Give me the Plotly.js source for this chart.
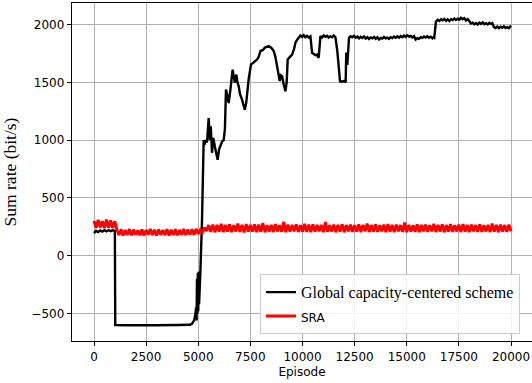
<!DOCTYPE html>
<html><head><meta charset="utf-8">
<script src="https://cdn.plot.ly/plotly-3.0.1.min.js"></script>
<style>html,body{margin:0;padding:0;background:#fff}#c{width:532px;height:383px}</style>
</head><body><div id="c"></div>
<script>
// Global capacity-centered scheme (black) — readings
const blackX = [0,100,200,300,400,500,600,700,800,900,1000,1020,1500,2000,3000,4000,4600,4700,4800,4850,4900,4920,4940,4960,4980,5000,5020,5040,5060,5100,5180,5260,5300,5350,5420,5500,5560,5600,5660,5720,5800,5860,5930,6000,6060,6150,6220,6280,6330,6400,6460,6550,6650,6750,6830,6880,6940,7000,7100,7230,7300,7420,7530,7650,7820,7900,7980,8100,8200,8380,8500,8620,8700,8780,8850,8910,8960,9020,9100,9180,9240,9290,9400,9500,9600,9660,9750,9830,9900,9980,10060,10140,10220,10300,10380,10460,10540,10620,10700,10760,10780,10860,10940,11020,11100,11180,11260,11340,11420,11500,11580,11670,11800,11900,11990,12070,12100,12150,12230,12310,12390,12470,12550,12630,12710,12790,12870,12950,13030,13110,13190,13270,13350,13430,13510,13590,13670,13750,13830,13910,13990,14070,14150,14230,14310,14390,14470,14550,14630,14710,14790,14870,14950,15030,15110,15190,15270,15350,15430,15510,15590,15670,15750,15830,15910,15990,16070,16150,16230,16280,16320,16400,16480,16560,16640,16720,16800,16880,16960,17040,17120,17200,17280,17360,17440,17520,17600,17680,17760,17840,17920,18000,18080,18160,18240,18320,18400,18480,18560,18640,18720,18800,18880,18960,19040,19100,19180,19260,19340,19420,19500,19580,19660,19740,19820,19900,19960,20000];
const blackY = [195,215,205,218,208,220,210,222,212,220,215,-600,-602,-600,-602,-600,-598,-590,-560,-520,-450,-560,-200,-500,-150,-480,-140,-420,-250,-150,300,1000,960,1000,980,1190,1000,1120,890,1020,940,900,830,920,950,990,1000,1100,1437,1380,1320,1450,1610,1497,1567,1500,1465,1400,1350,1263,1320,1530,1654,1670,1697,1720,1770,1780,1800,1813,1800,1770,1720,1640,1560,1510,1560,1552,1480,1422,1500,1697,1720,1740,1790,1842,1870,1885,1905,1892,1908,1890,1902,1888,1897,1755,1748,1735,1740,1711,1720,1900,1888,1906,1893,1902,1887,1899,1890,1905,1890,1770,1509,1505,1512,1500,1757,1650,1885,1898,1890,1902,1886,1895,1880,1893,1884,1897,1878,1890,1874,1888,1880,1893,1876,1889,1870,1884,1878,1892,1880,1887,1875,1890,1882,1895,1885,1898,1886,1900,1890,1904,1892,1906,1895,1902,1888,1899,1870,1882,1876,1890,1884,1896,1887,1900,1885,1894,1880,1889,1885,2025,2040,2030,2045,2036,2048,2032,2044,2030,2046,2038,2052,2040,2050,2042,2058,2045,2055,2035,2046,2030,2008,2015,2002,2012,2000,2016,2005,2018,2003,2012,2000,2014,2005,2012,1978,1970,1982,1968,1980,1972,1984,1970,1978,1968,1982,1975,1988];

// SRA (red) — one reading every 100 episodes, starting at episode 0
const sraStart = 0, sraStep = 100;
const sraY = [
302,240,310,244,298,238,312,242,305,238,298,
224,178,228,175,222,180,230,176,225,182,220,177,227,174,223,181,231,178,224,175,226,179,222,177,229,174,225,180,228,176,223,181,230,178,226,183,228,180,232,187,
223,202,243,214,
265,207,269,203,266,209,276,205,267,208,
271,204,264,210,278,206,266,202,273,208,
265,209,270,205,268,207,283,203,264,209,
267,205,273,210,263,207,294,204,269,208,
266,210,271,205,264,209,276,206,268,203,
270,208,265,211,267,204,290,207,263,210,
269,205,266,209,272,203,265,210,268,206,
264,208,271,204,267,210,277,205,265,209,
270,206,263,211,268,204,273,208,266,205,
269,210,265,206,286,203,267,209,264,207,
271,204,266,210,268,206,263,211,276,205,
267,209,270,203,265,208,272,206,264,210,
268,205,273,209,266,204,269,211,265,207,
270,206,264,210,267,205,278,208,266,203,
269,209,265,206,268,210];

const xTicks = [0,2500,5000,7500,10000,12500,15000,17500,20000];
const yTicks = [-500,0,500,1000,1500,2000];
const names = ['Global capacity-centered scheme', 'SRA'];

const tickFont = {family:'DejaVu Sans', size:12, color:'#000'};
const traces = [
  {x: blackX, y: blackY, type:'scatter', mode:'lines', name: names[0],
   line:{color:'#000', width:2.4}},
  {y: sraY, x0: sraStart, dx: sraStep, type:'scatter', mode:'lines',
   name: '<span style="font-family:DejaVu Sans;font-size:12px">' + names[1] + '</span>',
   line:{color:'#ff0000', width:2.9}}
];
const layout = {
  width:532, height:383,
  margin:{l:72, r:0, t:3, b:42},
  paper_bgcolor:'#fff', plot_bgcolor:'#fff',
  showlegend:true,
  xaxis:{range:[-1055,21007], tickvals:xTicks, ticktext:xTicks.map(String),
    showgrid:true, gridcolor:'#b0b0b0', gridwidth:1, zeroline:false,
    showline:true, linecolor:'#000', linewidth:1.3, mirror:true,
    ticks:'outside', ticklen:4, tickcolor:'#000', tickfont:tickFont,
    title:{text:'Episode', font:{family:'DejaVu Sans', size:12, color:'#000'}, standoff:5}},
  yaxis:{range:[-738,2186], tickvals:yTicks, ticktext:yTicks.map(v=>v<0?'\u2212'+Math.abs(v):String(v)),
    showgrid:true, gridcolor:'#b0b0b0', gridwidth:1, zeroline:false,
    showline:true, linecolor:'#000', linewidth:1.3, mirror:false,
    ticks:'outside', ticklen:4, tickcolor:'#000', tickfont:tickFont,
    title:{text:'Sum rate (bit/s)', font:{family:'Liberation Serif', size:17.5, color:'#000'}, standoff:11}},
  legend:{x:0.4087, y:0.02, xanchor:'left', yanchor:'bottom',
    bgcolor:'rgba(255,255,255,0.85)', bordercolor:'#cccccc', borderwidth:1,
    font:{family:'Liberation Serif', size:16, color:'#000'}, tracegroupgap:0}
};
Plotly.newPlot('c', traces, layout, {staticPlot:true, displayModeBar:false});
</script>
</body></html>
